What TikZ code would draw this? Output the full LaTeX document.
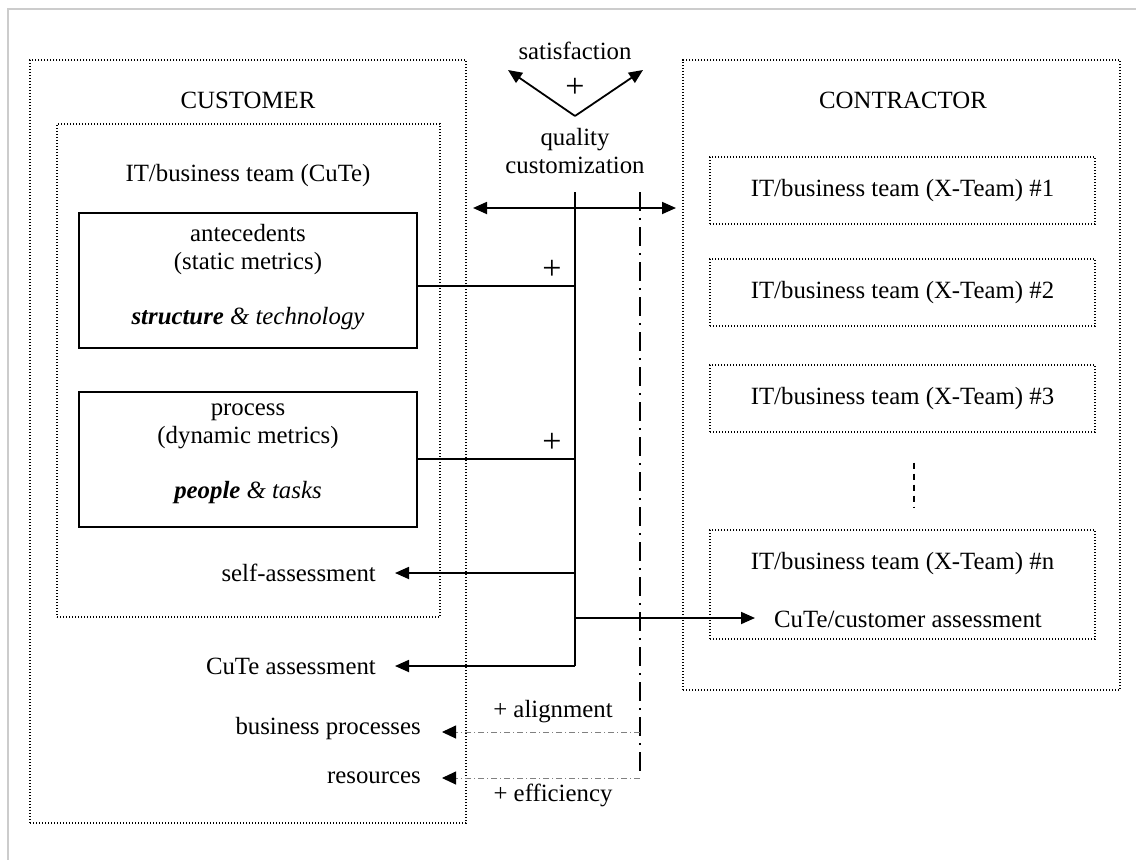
\documentclass[tikz,border=0pt]{standalone}
\usepackage{fontspec}
\setmainfont{Liberation Serif}
\usetikzlibrary{arrows.meta}
\begin{document}
\begin{tikzpicture}[x=1pt,y=-1pt,
  font=\fontsize{24.8}{27.5}\selectfont,
  dotbox/.style={draw, line width=1.2pt, dash pattern=on 1.2pt off 1.8pt, inner sep=0pt, rectangle},
  solidbox/.style={draw, line width=1.8pt, inner sep=0pt, rectangle},
  lbl/.style={inner sep=0pt},
  plus/.style={inner sep=0pt, font=\fontsize{34}{34}\selectfont},
  wire/.style={line width=1.8pt},
  tip/.tip={Triangle[length=14pt,width=12pt]},
  arr/.style={wire, -tip},
  dblarr/.style={wire, tip-tip},
  dashdot/.style={line width=2pt, dash pattern=on 19pt off 7pt on 2pt off 7pt},
  greyarr/.style={line width=1pt, gray, dash pattern=on 6pt off 3pt on 1pt off 3pt,
    -{Triangle[length=14pt,width=13pt,color=black,fill=black]}},
]
\useasboundingbox (0,0) rectangle (1136,860);

% page frame
\draw[line width=2pt, black!20] (8,860) -- (8,9) -- (1136,9);

% customer side
\node[dotbox, minimum width=436pt, minimum height=763pt] (cust) at (248,441.5) {};
\node[lbl] (custT) at (248,100) {CUSTOMER};
\node[dotbox, minimum width=383pt, minimum height=493pt] (cute) at (248.5,370.5) {};
\node[lbl] (cuteT) at (248,176) {IT/business team (CuTe)};

\node[solidbox, minimum width=338pt, minimum height=135pt] (ante) at (248,280.5) {};
\node[lbl, align=center] (anteT) at (248,277)
  {antecedents\\(static metrics)\\[27.5pt]{\bfseries\itshape structure} {\itshape\& technology}};
\node[solidbox, minimum width=338pt, minimum height=135pt] (proc) at (248,459.5) {};
\node[lbl, align=center] (procT) at (248,454)
  {process\\(dynamic metrics)\\[27.5pt]{\bfseries\itshape people} {\itshape\& tasks}};

\node[lbl, anchor=east] (selfA) at (376,573) {self-assessment};
\node[lbl, anchor=east] (cuteA) at (376,666) {CuTe assessment};
\node[lbl, anchor=east] (bpA) at (421,729) {business processes};
\node[lbl, anchor=east] (resA) at (421,778) {resources};

% contractor side
\node[dotbox, minimum width=437pt, minimum height=630pt] (contr) at (901.5,375) {};
\node[lbl] (contrT) at (903,100) {CONTRACTOR};
\node[dotbox, minimum width=385pt, minimum height=67pt] (x1) at (902.5,190.5) {IT/business team (X-Team) \#1};
\node[dotbox, minimum width=385pt, minimum height=67pt] (x2) at (902.5,292.5) {IT/business team (X-Team) \#2};
\node[dotbox, minimum width=385pt, minimum height=67pt] (x3) at (902.5,398.5) {IT/business team (X-Team) \#3};
\node[dotbox, minimum width=385pt, minimum height=109pt] (xn) at (902.5,584.5) {};
\node[lbl] (xnT) at (902.5,564) {IT/business team (X-Team) \#n};
\node[lbl, anchor=west] (custA) at (774,619) {CuTe/customer assessment};
\draw[line width=1.5pt, dash pattern=on 6pt off 5pt] (x3.south -| 914,0) ++(0,30) coordinate (dotsTop) -- ++(0,45) coordinate (dotsBot);

% central relations
\node[lbl] (sat) at (575,51) {satisfaction};
\node[plus] (plusV) at (575,88) {+};
\node[lbl, align=center] (qc) at (575,151) {quality\\customization};
\coordinate (vtx) at (575,116);
\coordinate (satL) at (508,70);
\coordinate (satR) at (643,70);
\draw[arr] (vtx) -- (satL);
\draw[arr] (vtx) -- (satR);

\coordinate (hl) at (473,208);
\coordinate (hr) at (676,208);
\draw[dblarr] (hl) -- (hr);

\coordinate (spTop) at (575,192);
\coordinate (spBot) at (575,666);
\draw[wire] (spTop) -- (spBot);

\coordinate (jA) at (575,286);
\coordinate (jP) at (575,459);
\draw[wire] (ante.east |- jA) -- (jA);
\draw[wire] (proc.east |- jP) -- (jP);
\node[plus] (plusA) at (552,270) {+};
\node[plus] (plusP) at (552,443) {+};

\draw[arr] (spTop |- selfA) -- ([xshift=19pt]selfA.east);
\draw[arr] (spBot) -- ([xshift=19pt]cuteA.east |- spBot);
\coordinate (jC) at (575,618);
\draw[arr] (jC) -- ([xshift=-19pt]custA.west |- jC);

% alignment / efficiency
\coordinate (ddTop) at (640,192);
\coordinate (ddBot) at (640,778);
\draw[dashdot] (ddTop) -- (ddBot);
\coordinate (aBP) at (640,732);
\coordinate (tBP) at (442,732);
\coordinate (tRes) at (442,778);
\draw[greyarr] (aBP) -- (tBP);
\draw[greyarr] (ddBot) -- (tRes);
\node[lbl] (alig) at (553,712) {+ alignment};
\node[lbl] (eff) at (553,795) {+ efficiency};
\end{tikzpicture}
\end{document}
